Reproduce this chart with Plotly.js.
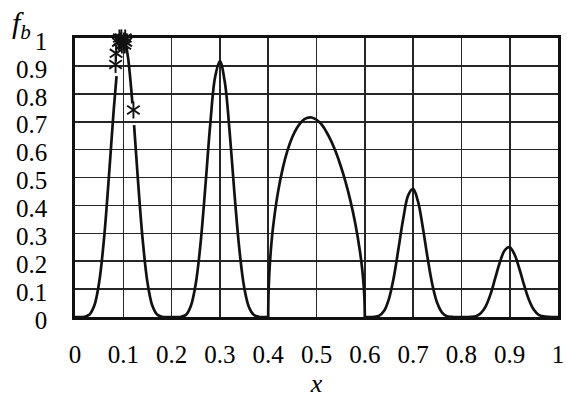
<!DOCTYPE html>
<html><head><meta charset="utf-8">
<script src="https://cdn.plot.ly/plotly-3.0.1.min.js"></script>
<style>html,body{margin:0;padding:0;background:#fff}</style>
</head><body><div id="chart" style="width:567px;height:398px"></div>
<script>
// Curve f_b(x), read peak by peak (null = line hidden behind markers)
const peak1X = [0, 0.01, 0.02, 0.03, 0.04, 0.05, 0.06, 0.07, 0.08, 0.086, 0.095, 0.105, 0.11, 0.116, 0.1188, 0.1205, 0.1223, 0.13, 0.14, 0.15, 0.16, 0.17, 0.18, 0.19, 0.2];
const peak1Y = [0, 0, 0.001, 0.009, 0.041, 0.124, 0.279, 0.499, 0.739, 0.863, null, 0.981, 0.928, 0.825, 0.766, null, 0.688, 0.499, 0.279, 0.124, 0.041, 0.009, 0.001, 0, 0];
const peak2X = [0.2, 0.21, 0.22, 0.23, 0.24, 0.25, 0.26, 0.27, 0.28, 0.29, 0.3, 0.31, 0.32, 0.33, 0.34, 0.35, 0.36, 0.37, 0.38, 0.39, 0.4];
const peak2Y = [0, 0, 0.001, 0.008, 0.040, 0.119, 0.265, 0.470, 0.690, 0.859, 0.917, 0.844, 0.667, 0.446, 0.248, 0.109, 0.036, 0.008, 0.001, 0, 0];
const peak3X = [0.4, 0.4005, 0.402, 0.405, 0.41, 0.42, 0.43, 0.44, 0.45, 0.46, 0.47, 0.48, 0.49, 0.5, 0.51, 0.52, 0.53, 0.54, 0.55, 0.56, 0.57, 0.58, 0.59, 0.595, 0.598, 0.5995, 0.6];
const peak3Y = [0, 0.073, 0.146, 0.229, 0.321, 0.445, 0.532, 0.597, 0.645, 0.679, 0.702, 0.713, 0.715, 0.707, 0.691, 0.665, 0.632, 0.591, 0.542, 0.485, 0.418, 0.338, 0.235, 0.165, 0.104, 0.052, 0];
const peak4X = [0.6, 0.61, 0.62, 0.63, 0.64, 0.65, 0.66, 0.67, 0.68, 0.69, 0.7, 0.71, 0.72, 0.73, 0.74, 0.75, 0.76, 0.77, 0.78, 0.79, 0.8];
const peak4Y = [0, 0, 0.0005, 0.005, 0.022, 0.065, 0.142, 0.248, 0.357, 0.437, 0.459, 0.415, 0.322, 0.212, 0.115, 0.050, 0.016, 0.003, 0.0003, 0, 0];
const peak5X = [0.8, 0.81, 0.82, 0.83, 0.84, 0.85, 0.86, 0.87, 0.88, 0.89, 0.9, 0.91, 0.92, 0.93, 0.94, 0.95, 0.96, 0.97, 0.98, 0.99, 1.0];
const peak5Y = [0, 0, 0.0003, 0.003, 0.013, 0.037, 0.080, 0.139, 0.198, 0.240, 0.250, 0.224, 0.173, 0.113, 0.061, 0.026, 0.008, 0.002, 0.0002, 0, 0];

// Population points (asterisks)
const popX = [0.090, 0.092, 0.093, 0.095, 0.096, 0.097, 0.098, 0.099, 0.100, 0.101, 0.102, 0.103, 0.104, 0.105, 0.085, 0.084, 0.121];
const popY = [0.985, 1.000, 0.990, 1.010, 1.000, 0.975, 1.030, 1.020, 1.025, 0.990, 1.015, 0.975, 1.000, 0.985, 0.945, 0.905, 0.742];

const tickVals = [0, 0.1, 0.2, 0.3, 0.4, 0.5, 0.6, 0.7, 0.8, 0.9, 1];
const tickText = ['0', '0.1', '0.2', '0.3', '0.4', '0.5', '0.6', '0.7', '0.8', '0.9', '1'];

const FONT = 'Liberation Serif';
const lineStyle = {color: '#111', width: 2.7, shape: 'spline', smoothing: 1};
const peaks = [[peak1X, peak1Y], [peak2X, peak2Y], [peak3X, peak3Y], [peak4X, peak4Y], [peak5X, peak5Y]];
const traces = peaks.map(p => ({
  x: p[0], y: p[1], type: 'scatter', mode: 'lines', line: lineStyle,
  connectgaps: false, showlegend: false, hoverinfo: 'skip'
}));
['y-up-open', 'y-down-open'].forEach(sym => traces.push({
  x: popX, y: popY, type: 'scatter', mode: 'markers', cliponaxis: false,
  marker: {symbol: sym, size: 10.5, color: '#111', line: {color: '#111', width: 1.9}},
  showlegend: false, hoverinfo: 'skip'
}));

function axis(extra) {
  return Object.assign({
    range: [0, 1], tickmode: 'array', tickvals: tickVals, ticktext: tickText,
    showgrid: true, gridcolor: '#262626', gridwidth: 1.6,
    showline: true, mirror: true, linecolor: '#111', linewidth: 2.8,
    zeroline: false, ticks: '', fixedrange: true,
    tickfont: {family: FONT, size: 25, color: '#000'}
  }, extra);
}

const layout = {
  width: 567, height: 398,
  margin: {l: 75, r: 9, t: 38, b: 81},
  paper_bgcolor: '#fff', plot_bgcolor: '#fff',
  font: {family: FONT, size: 25, color: '#000'},
  xaxis: axis({
    ticklabelstandoff: 13,
    title: {text: '<i>x</i>', font: {family: FONT, size: 26, color: '#000'}, standoff: 8}
  }),
  yaxis: axis({ticklabelstandoff: 20, ticklabelshift: 3}),
  annotations: [{
    text: '<i>f</i><sub><i>b</i></sub>', xref: 'paper', yref: 'paper',
    x: -0.11, y: 1.045, xanchor: 'center', yanchor: 'middle', showarrow: false,
    font: {family: FONT, size: 30, color: '#000'}
  }]
};

Plotly.newPlot('chart', traces, layout, {displayModeBar: false, staticPlot: true});
</script></body></html>
